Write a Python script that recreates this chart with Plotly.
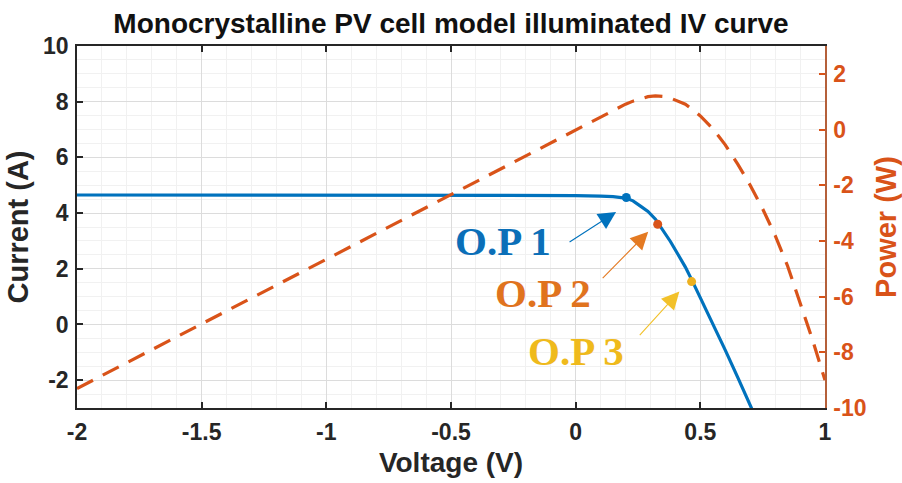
import plotly.graph_objects as go

# Cell voltage sweep (V), terminal current (A) and output power (W)
voltage = [-2.0, -1.5, -1.0, -0.5, 0.0, 0.1, 0.15, 0.2, 0.23, 0.26, 0.29, 0.32, 0.35,
           0.38, 0.41, 0.44, 0.47, 0.5, 0.55, 0.6, 0.65, 0.7, 0.75, 0.8, 0.85, 0.9, 0.95, 1.0]
current = [4.65, 4.65, 4.64, 4.64, 4.63, 4.61, 4.59, 4.54, 4.44, 4.25, 4.06, 3.78, 3.40,
           2.98, 2.52, 2.06, 1.52, 0.97, 0.05, -0.92, -1.90, -2.85, -3.85, -4.85, -5.85,
           -6.90, -7.90, -8.95]
power = [-9.30, -6.98, -4.64, -2.32, 0.0, 0.46, 0.69, 0.91, 1.02, 1.11, 1.18, 1.21, 1.19,
         1.13, 1.03, 0.91, 0.71, 0.49, 0.03, -0.55, -1.24, -2.00, -2.85, -3.80, -4.90,
         -6.20, -7.55, -9.00]

# Operating points marked on the I-V curve
op_names = ["O.P 1", "O.P 2", "O.P 3"]
op_voltage = [0.203, 0.329, 0.465]
op_current = [4.56, 3.60, 1.54]

x_ticks = [-2, -1.5, -1, -0.5, 0, 0.5, 1]
x_tick_labels = ["-2", "-1.5", "-1", "-0.5", "0", "0.5", "1"]
y_ticks = [-2, 0, 2, 4, 6, 8, 10]
y_tick_labels = ["-2", "0", "2", "4", "6", "8", "10"]
y2_ticks = [-10, -8, -6, -4, -2, 0, 2]
y2_tick_labels = ["-10", "-8", "-6", "-4", "-2", "0", "2"]

BLUE = "#0072BD"
ORANGE = "#D95319"
YELLOW = "#EDB120"
OP_TEXT_COLORS = ["#0B6FB8", "#E0731E", "#EFBA1C"]
OP_ARROW_COLORS = [BLUE, "#E47A22", "#F2C12A"]
OP_MARKER_COLORS = [BLUE, ORANGE, YELLOW]
AX = "#262626"
SANS = "Liberation Sans, Arial, sans-serif"
SERIF = "Liberation Serif, Times New Roman, serif"

fig = go.Figure()

fig.add_trace(go.Scatter(
    x=voltage, y=current, mode="lines",
    line=dict(color=BLUE, width=3.2), showlegend=False, yaxis="y"))

fig.add_trace(go.Scatter(
    x=voltage, y=power, mode="lines",
    line=dict(color=ORANGE, width=3.2, dash="18px,11px"), showlegend=False, yaxis="y2"))

for v, i, c in zip(op_voltage, op_current, OP_MARKER_COLORS):
    fig.add_trace(go.Scatter(
        x=[v], y=[i], mode="markers",
        marker=dict(color=c, size=9, line=dict(width=0)), showlegend=False, yaxis="y"))

# Arrow tips (data coords) and tail offsets (px) for the operating-point callouts
arrow_tips = [(0.162, 4.04), (0.291, 3.33), (0.416, 1.18)]
arrow_tails = [(-48, 31), (-47, 48), (-41, 45)]
label_pos = [(-0.293, 3.0), (-0.131, 1.12), (0.001, -0.96)]

annotations = []
for k in range(3):
    tx, ty = arrow_tips[k]
    ax_, ay_ = arrow_tails[k]
    annotations.append(dict(
        x=tx, y=ty, xref="x", yref="y", ax=ax_, ay=ay_, axref="pixel", ayref="pixel",
        text="", showarrow=True, arrowhead=2, arrowsize=3.2, arrowwidth=1.1,
        arrowcolor=OP_ARROW_COLORS[k], standoff=0))
    lx, ly = label_pos[k]
    annotations.append(dict(
        x=lx, y=ly, xref="x", yref="y", text="<b>%s</b>" % op_names[k], showarrow=False,
        font=dict(family=SERIF, size=41, color=OP_TEXT_COLORS[k]),
        xanchor="center", yanchor="middle"))

tick_font = dict(family=SANS, size=23, color=AX, weight="bold")
title_font = dict(family=SANS, size=28, color=AX, weight="bold")

fig.update_layout(
    width=902, height=483,
    margin=dict(l=77, r=77, t=46, b=75, autoexpand=False),
    paper_bgcolor="white", plot_bgcolor="white",
    title=dict(text="Monocrystalline PV cell model illuminated IV curve",
               x=0.5, xanchor="center", y=0.952, yanchor="middle",
               font=dict(family=SANS, size=28, color="#111111", weight="bold")),
    xaxis=dict(
        range=[-2, 1], tickvals=x_ticks, ticktext=x_tick_labels, automargin=False,
        tickfont=tick_font, ticks="inside", ticklen=6, tickcolor=AX, tickwidth=1.5,
        ticklabelstandoff=3,
        showline=True, linecolor=AX, linewidth=1.5, mirror="ticks",
        showgrid=True, gridcolor="#DCDCDC", gridwidth=1, zeroline=False,
        minor=dict(dtick=0.1, showgrid=True, gridcolor="#F1F1F1", gridwidth=1, ticks=""),
        title=dict(text="Voltage (V)", font=title_font, standoff=8)),
    yaxis=dict(
        range=[-3, 10], tickvals=y_ticks, ticktext=y_tick_labels, automargin=False,
        tickfont=tick_font, ticks="inside", ticklen=6, tickcolor=AX, tickwidth=1.5,
        ticklabelstandoff=2,
        showline=True, linecolor=AX, linewidth=1.5,
        showgrid=True, gridcolor="#DCDCDC", gridwidth=1, zeroline=False,
        minor=dict(dtick=0.5, showgrid=True, gridcolor="#F1F1F1", gridwidth=1, ticks=""),
        title=dict(text="Current (A)", font=dict(family=SANS, size=29, color=AX, weight="bold"),
                   standoff=6)),
    yaxis2=dict(
        range=[-10, 3], tickvals=y2_ticks, ticktext=y2_tick_labels, automargin=False,
        overlaying="y", side="right",
        tickfont=dict(family=SANS, size=23, color=ORANGE, weight="bold"),
        ticks="inside", ticklen=6, tickcolor=ORANGE, tickwidth=1.5,
        ticklabelstandoff=2,
        showline=True, linecolor="#B5603A", linewidth=1.5,
        showgrid=False, zeroline=False,
        title=dict(text="Power (W)", font=dict(family=SANS, size=29, color=ORANGE, weight="bold"),
                   standoff=14)),
    annotations=annotations,
)

fig.write_html("out.html")
